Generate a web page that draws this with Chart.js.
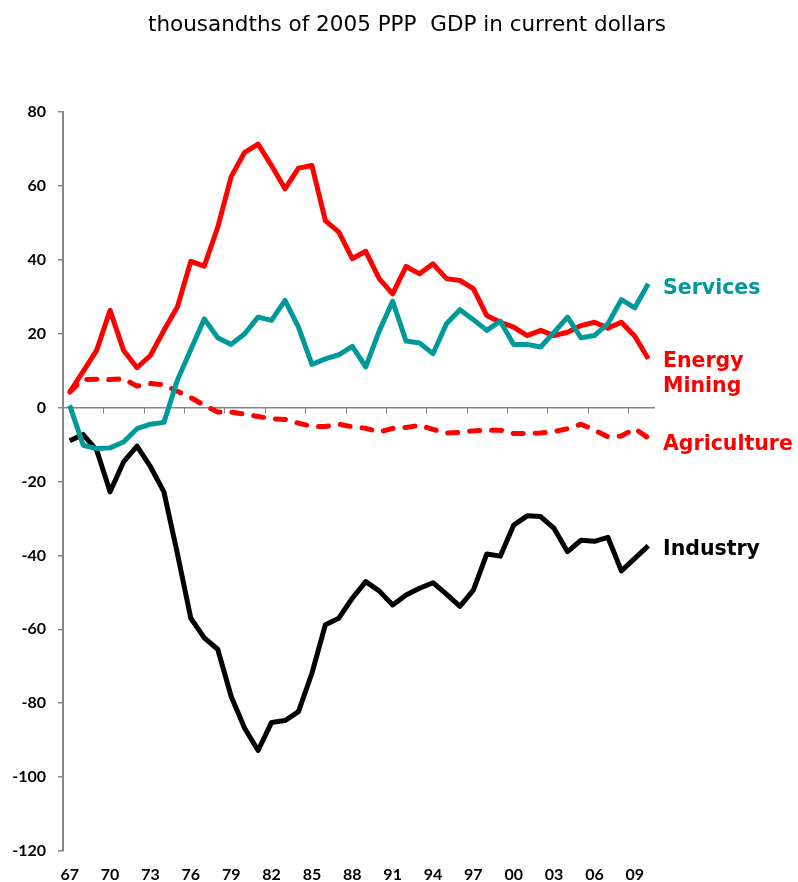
<!DOCTYPE html>
<html>
<head>
<meta charset="utf-8">
<script src="https://cdn.jsdelivr.net/npm/chart.js@4"></script>
<style>
  html, body { margin: 0; padding: 0; background: #fff; }
  #wrap { width: 798px; height: 882px; position: relative; }
</style>
</head>
<body>
<div id="wrap"><canvas id="grafico"></canvas></div>
<script>
var anos = ['67', '68', '69', '70', '71', '72', '73', '74', '75', '76', '77', '78', '79', '80', '81',
    '82', '83', '84', '85', '86', '87', '88', '89', '90', '91', '92', '93', '94', '95', '96', '97',
    '98', '99', '00', '01', '02', '03', '04', '05', '06', '07', '08', '09', '10'];

var servicos = [0.6, -10.2, -11.1, -10.9, -9.3, -5.7, -4.5, -4.0, 7.4, 15.7,
    24.0, 18.9, 17.1, 20.0, 24.5, 23.6, 29.0, 21.8, 11.7, 13.2,
    14.3, 16.6, 11.0, 20.7, 28.8, 18.0, 17.5, 14.6, 22.7, 26.5,
    23.8, 20.9, 23.4, 17.1, 17.1, 16.4, 20.4, 24.5, 18.9, 19.5,
    22.7, 29.2, 27.0, 33.5];

var energia = [4.2, 9.8, 15.5, 26.3, 15.5, 10.8, 14.1, 20.9, 27.2, 39.6,
    38.3, 48.8, 62.5, 69.1, 71.3, 65.5, 59.2, 64.8, 65.5, 50.6,
    47.5, 40.3, 42.3, 34.9, 30.8, 38.2, 36.2, 38.9, 34.9, 34.4,
    32.2, 24.9, 23.1, 21.8, 19.5, 20.9, 19.5, 20.4, 22.2, 23.1,
    21.5, 23.1, 19.3, 13.2];

var agricultura = [4.2, 7.6, 7.7, 7.6, 7.8, 5.8, 6.5, 6.2, 4.4, 2.7,
    0.6, -1.2, -1.2, -1.8, -2.4, -3.0, -3.2, -4.2, -5.1, -5.1,
    -4.5, -5.2, -5.6, -6.6, -5.6, -5.4, -4.8, -5.9, -6.9, -6.7,
    -6.3, -6.1, -6.1, -7.0, -7.0, -6.9, -6.5, -5.7, -4.5, -6.1,
    -7.9, -7.7, -5.7, -8.2];

var industria = [-9.0, -7.3, -11.5, -22.8, -14.7, -10.4, -16.0, -22.8, -39.5, -57.0,
    -62.3, -65.4, -78.2, -86.8, -92.8, -85.2, -84.7, -82.3, -71.9, -58.8,
    -57.0, -51.6, -47.1, -49.6, -53.4, -50.7, -48.9, -47.4, -50.5, -53.8,
    -49.4, -39.6, -40.2, -31.8, -29.3, -29.5, -32.7, -39.0, -35.9, -36.2,
    -35.1, -44.2, -40.8, -37.4];

var titulo = 'thousandths of 2005 PPP  GDP in current dollars';

var cinza = '#868686';
var verde = '#009999';
var vermelho = '#ff0000';

// titulo centrado no topo
var pluginTitulo = {
    id: 'pluginTitulo',
    afterDraw: function (chart) {
        var ctx = chart.ctx;
        ctx.save();
        ctx.font = '21.5px "DejaVu Sans"';
        ctx.fillStyle = '#000';
        ctx.textAlign = 'center';
        ctx.textBaseline = 'alphabetic';
        ctx.fillText(titulo, chart.width / 2 + 8, 31);
        ctx.restore();
    }
};

// marcas do eixo x embaixo da linha do zero, a cada 3 anos
var marcasX = {
    id: 'marcasX',
    beforeDatasetsDraw: function (chart) {
        var x = chart.scales.x, y = chart.scales.y, ctx = chart.ctx;
        var y0 = y.getPixelForValue(0);
        var meio = (x.getPixelForValue(1) - x.getPixelForValue(0)) / 2;
        ctx.save();
        ctx.strokeStyle = cinza;
        ctx.lineWidth = 1;
        for (var i = 3; i < anos.length; i += 3) {
            var px = Math.round(x.getPixelForValue(i) - meio) + 0.5;
            ctx.beginPath();
            ctx.moveTo(px, y0);
            ctx.lineTo(px, y0 + 6);
            ctx.stroke();
        }
        ctx.restore();
    }
};

// nome de cada serie ao lado do ultimo ponto
var rotulos = {
    id: 'rotulos',
    afterDatasetsDraw: function (chart) {
        var ctx = chart.ctx, area = chart.chartArea;
        ctx.save();
        ctx.font = 'bold 20.5px "DejaVu Sans"';
        ctx.textBaseline = 'alphabetic';
        ctx.textAlign = 'left';
        chart.data.datasets.forEach(function (ds, k) {
            var meta = chart.getDatasetMeta(k);
            var ultimo = meta.data[meta.data.length - 1];
            ctx.fillStyle = ds.corTexto;
            ds.rotulo.forEach(function (linha, j) {
                ctx.fillText(linha, area.right + 8, ultimo.y + ds.desvio + j * 25);
            });
        });
        ctx.restore();
    }
};

var grafico = document.getElementById('grafico');

new Chart(grafico, {
    type: 'line',
    data: {
        labels: anos,
        datasets: [{
            data: servicos,
            borderColor: verde,
            corTexto: verde,
            rotulo: ['Services'],
            desvio: 10
        }, {
            data: energia,
            borderColor: vermelho,
            corTexto: vermelho,
            rotulo: ['Energy', 'Mining'],
            desvio: 8.5
        }, {
            data: agricultura,
            borderColor: vermelho,
            borderDash: [10, 12],
            borderCapStyle: 'round',
            corTexto: vermelho,
            rotulo: ['Agriculture'],
            desvio: 12
        }, {
            data: industria,
            borderColor: '#000',
            corTexto: '#000',
            rotulo: ['Industry'],
            desvio: 9.5
        }]
    },
    options: {
        responsive: true,
        maintainAspectRatio: false,
        devicePixelRatio: 1,
        animation: false,
        layout: {
            padding: { top: 112, right: 143, left: 0, bottom: 0 }
        },
        elements: {
            line: { borderWidth: 5, tension: 0, borderJoinStyle: 'round' },
            point: { radius: 0, hoverRadius: 0 }
        },
        plugins: {
            legend: { display: false },
            tooltip: { enabled: false }
        },
        scales: {
            x: {
                offset: true,
                grid: { display: false, drawTicks: false },
                border: { display: false },
                ticks: {
                    autoSkip: false,
                    maxRotation: 0,
                    padding: 14,
                    color: '#000',
                    font: { family: 'Lato', weight: 'bold', size: 16 },
                    callback: function (v, i) {
                        return i % 3 === 0 ? anos[i] : '';
                    }
                },
                afterFit: function (scale) { scale.height = 31; }
            },
            y: {
                min: -120,
                max: 80,
                border: { color: cinza, width: 2 },
                grid: {
                    lineWidth: 1.5,
                    color: function (c) {
                        return c.tick && c.tick.value === 0 ? cinza : 'rgba(0,0,0,0)';
                    },
                    tickColor: cinza,
                    tickLength: 5
                },
                ticks: {
                    stepSize: 20,
                    padding: 12,
                    color: '#000',
                    font: { family: 'Lato', weight: 'bold', size: 16 }
                },
                afterFit: function (scale) { scale.width = 63; }
            }
        }
    },
    plugins: [pluginTitulo, marcasX, rotulos]
});
</script>
</body>
</html>
